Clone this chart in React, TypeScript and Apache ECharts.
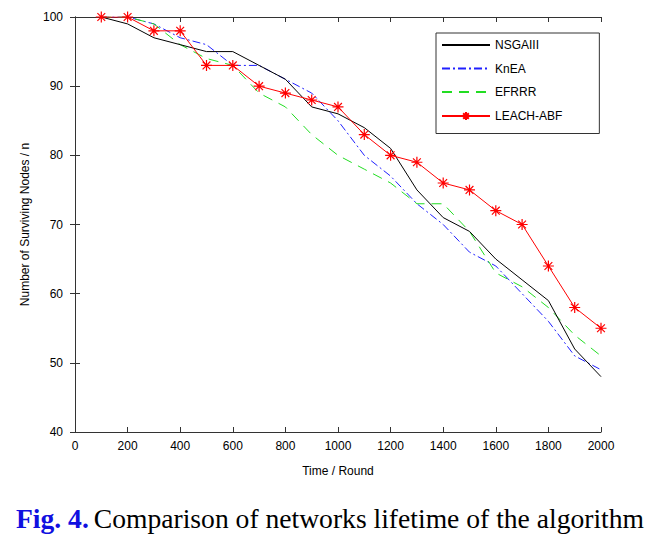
import React, { useEffect, useRef } from "react";
import * as echarts from "echarts";

const rounds = [100, 200, 300, 400, 500, 600, 700, 800, 900, 1000, 1100, 1200, 1300, 1400, 1500, 1600, 1700, 1800, 1900, 2000];
const nsgaiii = [100, 99, 97, 96, 95, 95, 93, 91, 87, 86, 84, 81, 75, 71, 69, 65, 62, 59, 52, 48];
const knea = [100, 100, 99, 97, 96, 93, 93, 91, 89, 85, 80, 77, 73, 70, 66, 64, 60, 56, 51, 49];
const efrrr = [100, 100, 99, 96, 94, 93, 89, 87, 83, 80, 78, 76, 73, 73, 69, 63, 61, 58, 54, 51];
const leachAbf = [100, 100, 98, 98, 93, 93, 90, 89, 88, 87, 83, 80, 79, 76, 75, 72, 70, 64, 58, 55];
const seriesNames = ["NSGAIII", "KnEA", "EFRRR", "LEACH-ABF"];

const pair = (ys: number[]) => rounds.map((x, i) => [x, ys[i]]);

const star = "path://M5,0L5,10M0,5L10,5M1.46,1.46L8.54,8.54M1.46,8.54L8.54,1.46";

export default function App() {
  const ref = useRef<HTMLDivElement>(null);
  useEffect(() => {
    if (!ref.current) return;
    const chart = echarts.init(ref.current, null, { renderer: "svg" });
    const font = "Liberation Sans, Arial, sans-serif";
    const serif = "Liberation Serif, Times New Roman, serif";
    const axisLine = { show: true, lineStyle: { color: "#333", width: 1 } };
    const axisTick = { show: true, inside: true, length: 5, lineStyle: { color: "#333" } };
    const hiddenSymbol = { color: "transparent", borderColor: "transparent", opacity: 0 };
    chart.setOption({
      animation: false,
      backgroundColor: "#fff",
      textStyle: { fontFamily: font },
      title: {
        left: 11,
        top: 499,
        text: "{a|Fig. 4.} {b|Comparison of networks lifetime of the algorithm}",
        textStyle: {
          fontWeight: "normal",
          rich: {
            a: { fontFamily: serif, fontSize: 27.6, fontWeight: "bold", color: "#1010e0" },
            b: { fontFamily: serif, fontSize: 27.6, fontWeight: "normal", color: "#000" },
          },
        },
      },
      grid: { left: 75, right: 62, top: 17, bottom: 105 },
      legend: {
        left: 436,
        top: 33,
        orient: "vertical",
        data: [
          { name: seriesNames[0], itemStyle: hiddenSymbol },
          { name: seriesNames[1], itemStyle: hiddenSymbol },
          { name: seriesNames[2], itemStyle: hiddenSymbol },
          { name: seriesNames[3] },
        ],
        itemWidth: 48,
        itemHeight: 10,
        itemGap: 11.5,
        padding: [6, 37, 11, 5],
        borderColor: "#333",
        borderWidth: 1,
        borderRadius: 0,
        backgroundColor: "#fff",
        textStyle: { fontFamily: font, fontSize: 12, color: "#000" },
      },
      xAxis: [
        {
          type: "value",
          min: 0,
          max: 2000,
          interval: 200,
          name: "Time / Round",
          nameLocation: "middle",
          nameGap: 33,
          nameTextStyle: { fontFamily: font, fontSize: 12, color: "#000" },
          axisLine,
          axisTick,
          axisLabel: { color: "#000", fontSize: 12, fontFamily: font, margin: 8, formatter: (v: number) => String(v) },
          splitLine: { show: false },
        },
        {
          type: "value",
          position: "top",
          min: 0,
          max: 2000,
          interval: 200,
          axisLine,
          axisTick,
          axisLabel: { show: false },
          splitLine: { show: false },
        },
      ],
      yAxis: [
        {
          type: "value",
          min: 40,
          max: 100,
          interval: 10,
          name: "Number of Surviving Nodes / n",
          nameLocation: "middle",
          nameGap: 44,
          nameTextStyle: { fontFamily: font, fontSize: 12, color: "#000" },
          axisLine,
          axisTick,
          axisLabel: { color: "#000", fontSize: 12, fontFamily: font, margin: 12 },
          splitLine: { show: false },
        },
        {
          type: "value",
          position: "right",
          min: 40,
          max: 100,
          interval: 10,
          axisLine,
          axisTick,
          axisLabel: { show: false },
          splitLine: { show: false },
        },
      ],
      series: [
        {
          name: "NSGAIII",
          type: "line",
          data: pair(nsgaiii),
          symbol: "none",
          lineStyle: { color: "#000", width: 1 },
          itemStyle: { color: "#000" },
          z: 3,
        },
        {
          name: "KnEA",
          type: "line",
          data: pair(knea),
          symbol: "none",
          lineStyle: { color: "#2020ff", width: 1, type: [8, 3, 2, 3] },
          itemStyle: { color: "#2020ff" },
          z: 2,
        },
        {
          name: "EFRRR",
          type: "line",
          data: pair(efrrr),
          symbol: "none",
          lineStyle: { color: "#22dd22", width: 1, type: [10, 7] },
          itemStyle: { color: "#22dd22" },
          z: 2,
        },
        {
          name: "LEACH-ABF",
          type: "line",
          data: pair(leachAbf),
          symbol: star,
          symbolSize: 11,
          showAllSymbol: true,
          lineStyle: { color: "#ff0000", width: 1 },
          itemStyle: { color: "none", borderColor: "#ff0000", borderWidth: 1.2 },
          z: 4,
        },
      ],
    });
    return () => chart.dispose();
  }, []);
  return <div ref={ref} style={{ position: "fixed", left: 0, top: 0, width: 663, height: 537 }} />;
}
